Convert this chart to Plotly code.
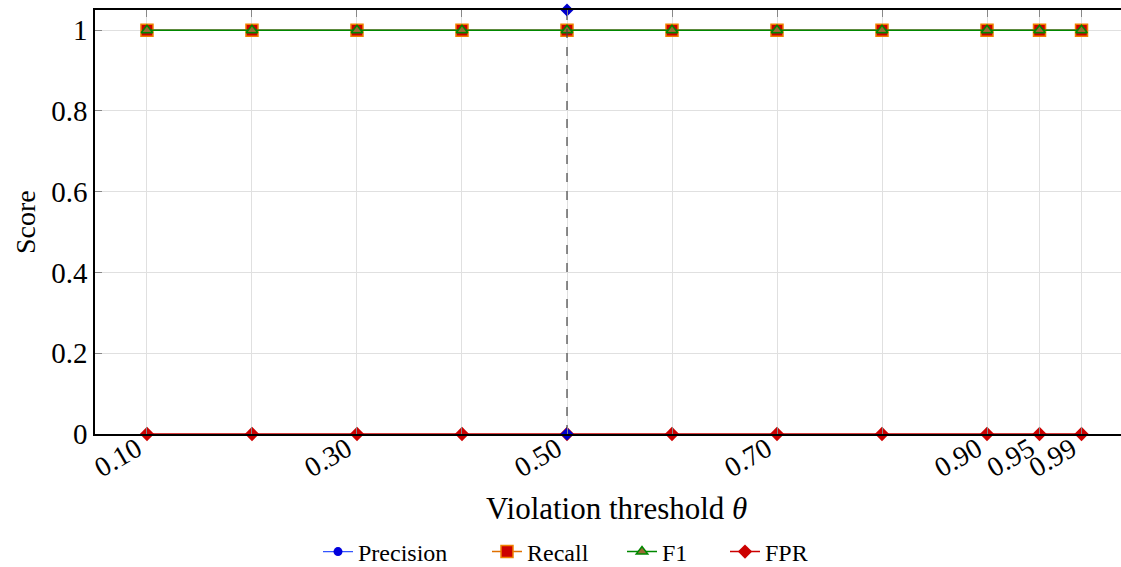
import plotly.graph_objects as go

thresholds = [0.10, 0.20, 0.30, 0.40, 0.50, 0.60, 0.70, 0.80, 0.90, 0.95, 0.99]
precision = [1.0, 1.0, 1.0, 1.0, 1.0, 1.0, 1.0, 1.0, 1.0, 1.0, 1.0]
recall = [1.0, 1.0, 1.0, 1.0, 1.0, 1.0, 1.0, 1.0, 1.0, 1.0, 1.0]
f1 = [1.0, 1.0, 1.0, 1.0, 1.0, 1.0, 1.0, 1.0, 1.0, 1.0, 1.0]
fpr = [0.0, 0.0, 0.0, 0.0, 0.0, 0.0, 0.0, 0.0, 0.0, 0.0, 0.0]

chosen_threshold = [0.50, 0.50]
chosen_span = [0.0, 1.05]

x_tickvals = [0.10, 0.20, 0.30, 0.40, 0.50, 0.60, 0.70, 0.80, 0.90, 0.95, 0.99]
x_ticktext = ["0.10", "", "0.30", "", "0.50", "", "0.70", "", "0.90", "0.95", "0.99"]
y_tickvals = [0, 0.2, 0.4, 0.6, 0.8, 1.0]
y_ticktext = ["0", "0.2", "0.4", "0.6", "0.8", "1"]

FONT = "'Liberation Serif', 'Times New Roman', Tinos, serif"

# plot area in pixels
L, R, T, B = 95, 0, 10, 133
W, H = 1121, 567
PW = W - L - R
PH = H - T - B


def px_x(px):
    return (px - L) / PW


def px_y(py):
    return (H - B - py) / PH


fig = go.Figure()

fig.add_trace(go.Scatter(
    x=thresholds, y=precision, mode="lines+markers", name="Precision",
    line=dict(color="#3355ff", width=1.2),
    marker=dict(symbol="circle", color="#0000dd", size=9),
    cliponaxis=False, legend="legend"))

fig.add_trace(go.Scatter(
    x=thresholds, y=recall, mode="lines+markers", name="Recall",
    line=dict(color="#e07000", width=1.5),
    marker=dict(symbol="square", color="#cc0000", size=12,
                line=dict(color="#f08000", width=1.5)),
    cliponaxis=False, legend="legend2"))

fig.add_trace(go.Scatter(
    x=thresholds, y=f1, mode="lines+markers", name="F1",
    line=dict(color="#008800", width=1.5),
    marker=dict(symbol="triangle-up", color="#9a6a35", size=10,
                line=dict(color="#008800", width=1.5)),
    cliponaxis=False, legend="legend3"))

fig.add_trace(go.Scatter(
    x=thresholds, y=fpr, mode="lines+markers", name="FPR",
    line=dict(color="#cc0000", width=1.5),
    marker=dict(symbol="diamond", color="#cc0000", size=11),
    cliponaxis=False, legend="legend4"))

fig.add_trace(go.Scatter(
    x=chosen_threshold, y=chosen_span, mode="lines+markers",
    line=dict(color="#444444", width=1.2, dash="dash"),
    marker=dict(symbol="diamond", color="#0000cc", size=10),
    showlegend=False, cliponaxis=False, hoverinfo="skip"))

legend_y = px_y(552)


def leg(px):
    return dict(orientation="h", x=px_x(px), xanchor="left", y=legend_y, yanchor="middle",
                font=dict(family=FONT, size=24), bgcolor="rgba(0,0,0,0)")


fig.update_layout(
    width=W, height=H,
    margin=dict(l=L, r=R, t=T, b=B, autoexpand=False),
    plot_bgcolor="white", paper_bgcolor="white",
    font=dict(family=FONT, size=24, color="black"),
    legend=leg(318),
    legend2=leg(487),
    legend3=leg(622),
    legend4=leg(725),
    annotations=[
        dict(text="Violation threshold <i>θ</i>", x=px_x(616), y=px_y(508),
             xref="paper", yref="paper", xanchor="center", yanchor="middle",
             showarrow=False, font=dict(family=FONT, size=31)),
        dict(text="Score", x=px_x(25), y=px_y(222), textangle=-90,
             xref="paper", yref="paper", xanchor="center", yanchor="middle",
             showarrow=False, font=dict(family=FONT, size=28)),
    ],
)

fig.update_xaxes(
    range=[0.0505, 1.0276], tickvals=x_tickvals, ticktext=x_ticktext,
    tickangle=-30, ticks="inside", ticklen=7, tickcolor="#888888",
    showgrid=True, gridcolor="#e0e0e0", gridwidth=1,
    showline=True, linecolor="black", linewidth=1.5, mirror="ticks",
    zeroline=False, automargin=False, tickfont=dict(family=FONT, size=28),
    ticklabelshift=-10, ticklabelstandoff=-14)

fig.update_yaxes(
    range=[0, 1.05], tickvals=y_tickvals, ticktext=y_ticktext,
    ticks="inside", ticklen=7, tickcolor="#888888",
    showgrid=True, gridcolor="#e0e0e0", gridwidth=1,
    showline=True, linecolor="black", linewidth=1.5, mirror=False,
    zeroline=False, automargin=False, tickfont=dict(family=FONT, size=29))

fig.write_html("out.html", config={"displayModeBar": False},
               post_script="document.body.style.margin='0px';")
